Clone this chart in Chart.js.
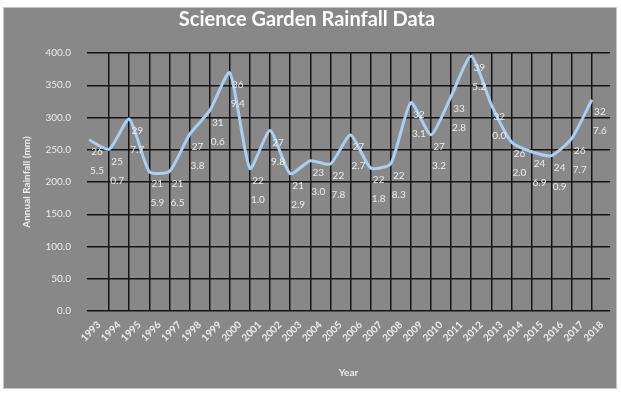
<!DOCTYPE html>
<html>
<head>
<meta charset="utf-8">
<script src="https://cdn.jsdelivr.net/npm/chart.js@4"></script>
<style>
  html, body { margin: 0; padding: 0; background: #ffffff; }
  #box {
    position: absolute; left: 3px; top: 7px;
    width: 612px; height: 380px;
    background: #888888; border: 1px solid #c4c4c4;
  }
  canvas { display: block; }
</style>
</head>
<body>
<div id="box"><canvas id="c" width="612" height="380"></canvas></div>
<script>
// Annual rainfall at the Science Garden, 1993-2018
const years = [1993, 1994, 1995, 1996, 1997, 1998, 1999, 2000, 2001, 2002, 2003, 2004, 2005,
               2006, 2007, 2008, 2009, 2010, 2011, 2012, 2013, 2014, 2015, 2016, 2017, 2018];
const rainfall = [265.5, 250.7, 297.7, 215.9, 216.5, 273.8, 310.6, 369.4, 221.0, 279.8, 212.9, 233.0, 227.8,
                  272.7, 221.8, 228.3, 323.1, 273.2, 332.8, 395.2, 320.0, 262.0, 246.9, 240.9, 267.7, 327.6];
const yTicks = [0, 50, 100, 150, 200, 250, 300, 350, 400];

const FONT = "Lato, 'Open Sans', sans-serif";
const TEXT = '#ececec';

// Value labels: each value is wrapped after its first two characters, under the point
const valueLabels = {
  id: 'valueLabels',
  afterDatasetsDraw(chart) {
    const ctx = chart.ctx;
    const meta = chart.getDatasetMeta(0);
    ctx.save();
    ctx.font = "10px " + FONT;
    ctx.fillStyle = TEXT;
    ctx.textAlign = 'center';
    ctx.textBaseline = 'middle';
    meta.data.forEach((pt, i) => {
      const s = rainfall[i].toFixed(1);
      ctx.fillText(s.slice(0, 2), pt.x + 8, pt.y + 12);
      ctx.fillText(s.slice(2), pt.x + 8, pt.y + 31);
    });
    ctx.restore();
  }
};

new Chart(document.getElementById('c'), {
  type: 'line',
  data: {
    datasets: [{
      data: years.map((y, i) => ({ x: y, y: rainfall[i] })),
      borderColor: '#a7d0f2',
      borderWidth: 3,
      pointRadius: 0,
      tension: 0.2,
      fill: false
    }]
  },
  options: {
    responsive: false,
    animation: false,
    layout: { padding: { left: 0, right: 6, top: 0, bottom: 0 } },
    plugins: {
      legend: { display: false },
      tooltip: { enabled: false },
      title: {
        display: true,
        text: 'Science Garden Rainfall Data',
        color: '#ffffff',
        font: { family: FONT, size: 20, weight: 'bold' },
        padding: { top: 0, bottom: 21 }
      }
    },
    scales: {
      x: {
        type: 'linear',
        min: 1992.9,
        max: 2018.9,
        afterBuildTicks(scale) { scale.ticks = years.map(v => ({ value: v })); },
        afterFit(scale) { scale.height = 77; },
        border: { display: false },
        grid: {
          color: c => (c.tick && c.tick.value === years[0]) ? 'rgba(0,0,0,0)' : '#141414',
          lineWidth: 1.5,
          drawTicks: false
        },
        ticks: {
          autoSkip: false,
          minRotation: 45,
          maxRotation: 45,
          padding: 8,
          labelOffset: 10,
          color: TEXT,
          font: { family: FONT, size: 10, weight: 'bold' },
          callback: v => String(v)
        },
        title: {
          display: true,
          text: 'Year',
          color: TEXT,
          font: { family: FONT, size: 10, weight: 'bold' },
          padding: { top: 0, bottom: 9 }
        }
      },
      y: {
        min: 0,
        max: 400,
        afterBuildTicks(scale) { scale.ticks = yTicks.map(v => ({ value: v })); },
        afterFit(scale) { scale.width = 83; },
        border: { display: false },
        grid: { color: '#141414', lineWidth: 1.5, drawTicks: false },
        ticks: {
          padding: 16,
          color: TEXT,
          font: { family: FONT, size: 10 },
          callback: v => v.toFixed(1)
        },
        title: {
          display: true,
          text: 'Annual Rainfall (mm)',
          color: TEXT,
          font: { family: FONT, size: 10, weight: 'bold' },
          padding: { top: 17, bottom: 0 }
        }
      }
    }
  },
  plugins: [valueLabels]
});
</script>
</body>
</html>
